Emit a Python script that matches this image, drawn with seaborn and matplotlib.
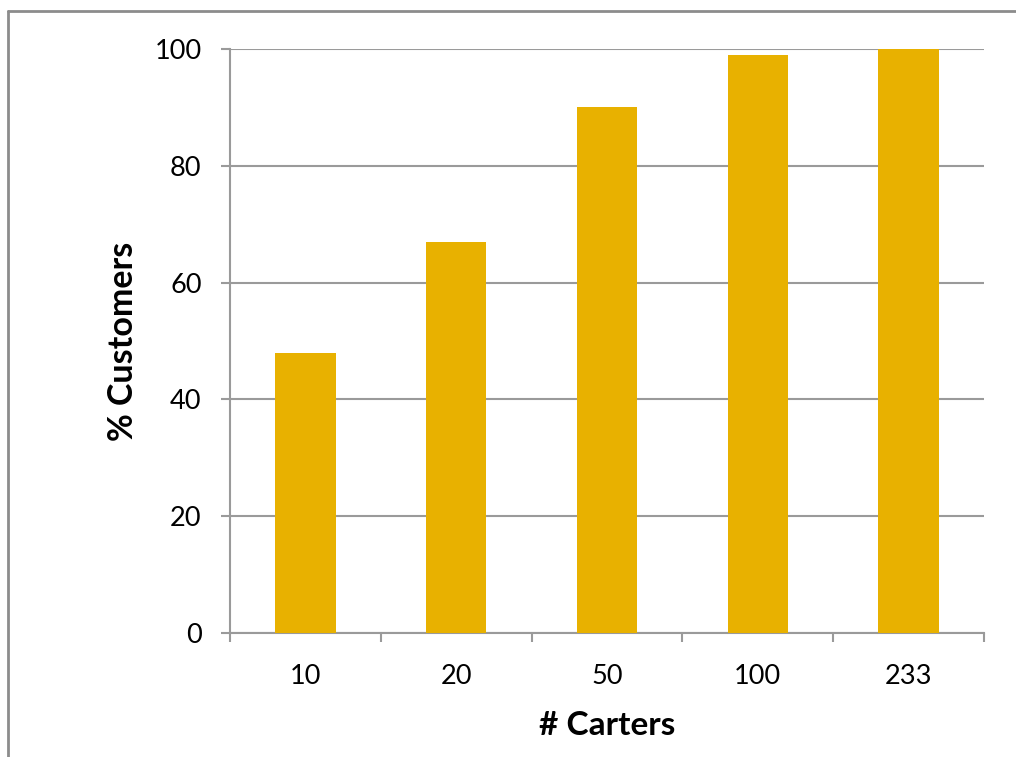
import matplotlib
matplotlib.use("Agg")
import matplotlib.pyplot as plt
import seaborn as sns
import pandas as pd
from matplotlib.lines import Line2D
from matplotlib.ticker import FixedLocator, NullFormatter

carters = ["10", "20", "50", "100", "233"]
customers_pct = [48, 67, 90, 99, 100]
y_ticks = [0, 20, 40, 60, 80, 100]

sns.set_theme(style="white")
plt.rcParams['font.family'] = ['Lato', 'DejaVu Sans']

df = pd.DataFrame({"carters": carters, "pct": customers_pct})

fig = plt.figure(figsize=(10.16, 7.57), dpi=100)
ax = fig.add_axes([230/1016, 1-633/757, (984-230)/1016, (633-49)/757])

sns.barplot(data=df, x="carters", y="pct", order=carters, color="#E8B100",
            width=0.4, saturation=1, ax=ax, zorder=3)
for p in ax.patches:
    p.set_edgecolor("none")

grid_c = "#9A9A9A"
ax.set_ylim(0, 100)
ax.set_xlim(-0.5, len(carters) - 0.5)
ax.set_yticks(y_ticks)
ax.set_yticklabels([str(v) for v in y_ticks])
ax.yaxis.grid(True, color=grid_c, linewidth=1.5, zorder=0)
ax.set_axisbelow(True)

# category boundary ticks (major, unlabeled) and centered labels (minor)
ax.xaxis.set_major_locator(FixedLocator([i - 0.5 for i in range(len(carters) + 1)]))
ax.xaxis.set_major_formatter(NullFormatter())
ax.xaxis.set_minor_locator(FixedLocator(list(range(len(carters)))))
ax.set_xticklabels(carters, minor=True)

ax.tick_params(axis="x", which="major", direction="out", length=6.5, width=1.5,
               color=grid_c, bottom=True)
ax.tick_params(axis="x", which="minor", length=0, pad=22.5, labelsize=19.5, labelcolor="black")
ax.tick_params(axis="y", direction="out", length=6.5, width=1.5, color=grid_c,
               left=True, pad=14, labelsize=19.5, labelcolor="black")

for s in ["top", "right"]:
    ax.spines[s].set_visible(False)
for s in ["left", "bottom"]:
    ax.spines[s].set_color(grid_c)
    ax.spines[s].set_linewidth(1.5)

ax.set_xlabel("# Carters", fontsize=24, fontweight="bold", labelpad=16, color="black")
ax.set_ylabel("% Customers", fontsize=24.5, fontweight="bold", labelpad=11, color="black")

# outer chart frame (partially visible)
fx = 7.5 / 1016
fy = 1 - 10.5 / 757
fig.add_artist(Line2D([fx, fx], [0, fy], transform=fig.transFigure, color="#8C8C8C", linewidth=2))
fig.add_artist(Line2D([fx, 1], [fy, fy], transform=fig.transFigure, color="#8C8C8C", linewidth=2))

fig.savefig("out.png", dpi=100)
